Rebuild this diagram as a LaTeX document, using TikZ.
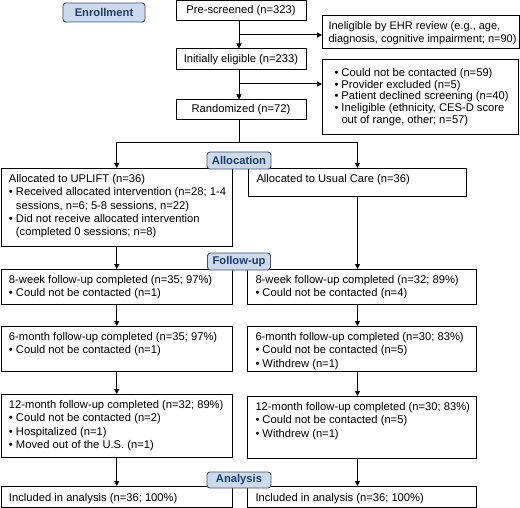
\documentclass[tikz,border=0pt]{standalone}
\usepackage{fontspec}
\setmainfont{Liberation Sans}
\usetikzlibrary{arrows.meta}
\definecolor{labfill}{HTML}{CCDAF0}
\definecolor{labtext}{HTML}{1F3C73}
\definecolor{labdraw}{HTML}{4A4F5A}
\newcommand{\itm}{\hangindent=7pt\hangafter=1\makebox[7pt][l]{\textbullet}}
\newcommand{\bxtext}[5]{%
\begin{minipage}[t][#2pt][t]{#1pt}\fontsize{11.2}{#3}\selectfont\raggedright\rightskip=0pt plus 1fil minus 30pt\leftskip=8pt\vspace*{\dimexpr#4pt-9pt\relax}\leavevmode\rule{0pt}{9pt}#5\par\vfill\end{minipage}}
\tikzset{
  line/.style={line width=1pt, black},
  arr/.style={line, -{Triangle[length=5pt,width=5pt]}},
  box/.style={draw, line width=1pt, inner sep=0pt, anchor=north west, font=\fontsize{11.2}{13.3}\selectfont},
  cbox/.style={draw, line width=1pt, inner sep=0pt, font=\fontsize{11.2}{13.3}\selectfont},
  lab/.style={draw=labdraw, fill=labfill, text=labtext, line width=0.9pt, rounded corners=3pt, inner sep=0pt, font=\fontsize{11.2}{13}\selectfont\bfseries}
}
\begin{document}
\begin{tikzpicture}[x=1pt,y=-1pt]
\useasboundingbox (0,0) rectangle (520,508);
% enrollment column
\node[cbox, minimum width=130pt, minimum height=20.5pt] (pre) at (241,10.75) {Pre-screened (n=323)};
\node[cbox, minimum width=130pt, minimum height=21pt] (elig) at (241,59.5) {Initially eligible (n=233)};
\node[cbox, minimum width=130pt, minimum height=20pt] (rand) at (241,110) {Randomized (n=72)};
\node[box] (ehr) at (322,15) {\bxtext{197}{33}{13.3}{14}{\leftskip=6pt\fontsize{11}{13.3}\selectfont Ineligible by EHR review (e.g., age,\newline diagnosis, cognitive impairment; n=90)}};
\node[box] (excl) at (322,59) {\bxtext{196}{75}{11.7}{17}{\leftskip=12pt\itm Could not be contacted (n=59)\par\itm Provider excluded (n=5)\par\itm Patient declined screening (n=40)\par\itm Ineligible (ethnicity, CES-D score\newline out of range, other; n=57)}};
% allocation
\node[box] (uplift) at (0.5,168) {\bxtext{231.5}{78}{13.3}{14}{Allocated to UPLIFT (n=36)\par\itm Received allocated intervention (n=28; 1-4\newline sessions, n=6; 5-8 sessions, n=22)\par\itm Did not receive allocated intervention\newline (completed 0 sessions; n=8)}};
\node[box] (uc) at (248,168) {\bxtext{218}{28}{13.3}{14}{Allocated to Usual Care (n=36)}};
% follow-up
\node[box] (w8l) at (0.5,269) {\bxtext{231.5}{35}{13.3}{14}{8-week follow-up completed (n=35; 97\%)\par\itm Could not be contacted (n=1)}};
\node[box] (w8r) at (247,269) {\bxtext{229}{35}{13.3}{14}{8-week follow-up completed (n=32; 89\%)\par\itm Could not be contacted (n=4)}};
\node[box] (m6l) at (0.5,326) {\bxtext{231.5}{45}{13.3}{14}{6-month follow-up completed (n=35; 97\%)\par\itm Could not be contacted (n=1)}};
\node[box] (m6r) at (247,326) {\bxtext{229}{45}{13.3}{14}{6-month follow-up completed (n=30; 83\%)\par\itm Could not be contacted (n=5)\par\itm Withdrew (n=1)}};
\node[box] (m12l) at (0.5,394) {\bxtext{231.5}{63}{13.3}{14}{12-month follow-up completed (n=32; 89\%)\par\itm Could not be contacted (n=2)\par\itm Hospitalized (n=1)\par\itm Moved out of the U.S. (n=1)}};
\node[box] (m12r) at (247,396) {\bxtext{229}{62}{13.3}{14}{12-month follow-up completed (n=30; 83\%)\par\itm Could not be contacted (n=5)\par\itm Withdrew (n=1)}};
% analysis
\node[box] (inl) at (0.5,486) {\bxtext{231.5}{21}{13.3}{14.5}{Included in analysis (n=36; 100\%)}};
\node[box] (inr) at (247,486) {\bxtext{229}{21}{13.3}{14.5}{Included in analysis (n=36; 100\%)}};
% connectors
\coordinate (sp) at (239,0);
\draw[arr] (pre.south -| sp) -- (elig.north -| sp);
\draw[arr] (elig.south -| sp) -- (rand.north -| sp);
\coordinate (b1) at (239,35);
\draw[arr] (b1) -- (b1 -| ehr.west);
\coordinate (b2) at (239,84);
\draw[arr] (b2) -- (b2 -| excl.west);
\coordinate (split) at (239,143);
\draw[line] (rand.south -| sp) -- (split);
\draw[arr] (split) -| (uplift.north);
\draw[arr] (split) -| (uc.north);
\draw[arr] (uplift.south) -- (w8l.north -| uplift.south);
\draw[arr] (w8l.south -| uplift.south) -- (m6l.north -| uplift.south);
\draw[arr] (m6l.south -| uplift.south) -- (m12l.north -| uplift.south);
\draw[arr] (m12l.south -| uplift.south) -- (inl.north -| uplift.south);
\draw[arr] (uc.south) -- (w8r.north -| uc.south);
\draw[arr] (w8r.south -| uc.south) -- (m6r.north -| uc.south);
\draw[arr] (m6r.south -| uc.south) -- (m12r.north -| uc.south);
\draw[arr] (m12r.south -| uc.south) -- (inr.north -| uc.south);
% stage labels
\node[lab, minimum width=82pt, minimum height=19pt] (enr) at (104,12.5) {Enrollment};
\node[lab, minimum width=64pt, minimum height=17pt] (alloc) at (239,160.5) {Allocation};
\node[lab, minimum width=63pt, minimum height=17pt] (fu) at (239,261.5) {Follow-up};
\node[lab, minimum width=64pt, minimum height=16pt] (ana) at (239,480) {Analysis};
\end{tikzpicture}
\end{document}
